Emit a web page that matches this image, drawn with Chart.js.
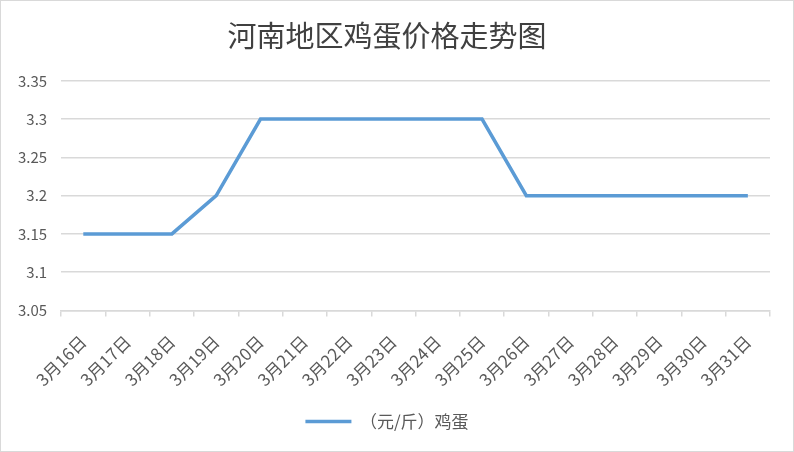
<!DOCTYPE html>
<html>
<head>
<meta charset="utf-8">
<script src="https://cdn.jsdelivr.net/npm/chart.js@4.4.1/dist/chart.umd.min.js"></script>
<style>
  html, body { margin: 0; padding: 0; background: #fff; }
  #box {
    width: 794px; height: 452px; box-sizing: border-box;
    border: 1px solid #d9d9d9; position: relative;
  }
</style>
</head>
<body>
<div id="box"><canvas id="grafico"></canvas></div>
<script>
// 日期
const dias = ["3月16日", "3月17日", "3月18日", "3月19日", "3月20日", "3月21日", "3月22日", "3月23日",
  "3月24日", "3月25日", "3月26日", "3月27日", "3月28日", "3月29日", "3月30日", "3月31日"];
// 鸡蛋价格（元/斤）
const precos = [3.15, 3.15, 3.15, 3.2, 3.3, 3.3, 3.3, 3.3, 3.3, 3.3, 3.2, 3.2, 3.2, 3.2, 3.2, 3.2];
// 纵轴刻度
const ticksY = [3.05, 3.1, 3.15, 3.2, 3.25, 3.3, 3.35];

const fonte = "'Noto Sans CJK SC', 'Noto Sans', sans-serif";
const cinza = "#595959";

const ctx = document.getElementById("grafico").getContext("2d");
new Chart(ctx, {
  type: "line",
  data: {
    labels: dias,
    datasets: [{
      label: "（元/斤）鸡蛋",
      data: precos,
      borderColor: "#5b9bd5",
      backgroundColor: "#5b9bd5",
      borderWidth: 3.5,
      pointRadius: 0,
      pointStyle: "line",
      tension: 0
    }]
  },
  options: {
    responsive: true,
    maintainAspectRatio: false,
    animation: false,
    layout: { padding: { left: 3, right: 23, top: 0, bottom: 11 } },
    plugins: {
      title: {
        display: true,
        text: "河南地区鸡蛋价格走势图",
        color: "#404040",
        font: { family: fonte, size: 29, weight: "normal" },
        padding: { top: 18, bottom: 27 }
      },
      legend: {
        position: "bottom",
        labels: {
          usePointStyle: true,
          pointStyleWidth: 46,
          color: cinza,
          font: { family: fonte, size: 17 },
          padding: 8
        }
      },
      tooltip: { enabled: false }
    },
    scales: {
      x: {
        offset: true,
        grid: {
          offset: true,
          drawOnChartArea: false,
          drawTicks: true,
          tickLength: 6,
          color: "#d9d9d9",
          lineWidth: 1.5
        },
        border: { color: "#d9d9d9", width: 1.5 },
        ticks: {
          color: cinza,
          font: { family: fonte, size: 17 },
          minRotation: 45,
          maxRotation: 45,
          autoSkip: false,
          padding: 15
        }
      },
      y: {
        min: 3.05,
        max: 3.35,
        afterBuildTicks: axis => { axis.ticks = ticksY.map(v => ({ value: v })); },
        grid: { color: "#d9d9d9", lineWidth: 1.5, drawTicks: false },
        border: { display: false },
        ticks: {
          color: cinza,
          font: { family: fonte, size: 15 },
          padding: 14,
          callback: v => String(+v.toFixed(2))
        }
      }
    }
  }
});
</script>
</body>
</html>
